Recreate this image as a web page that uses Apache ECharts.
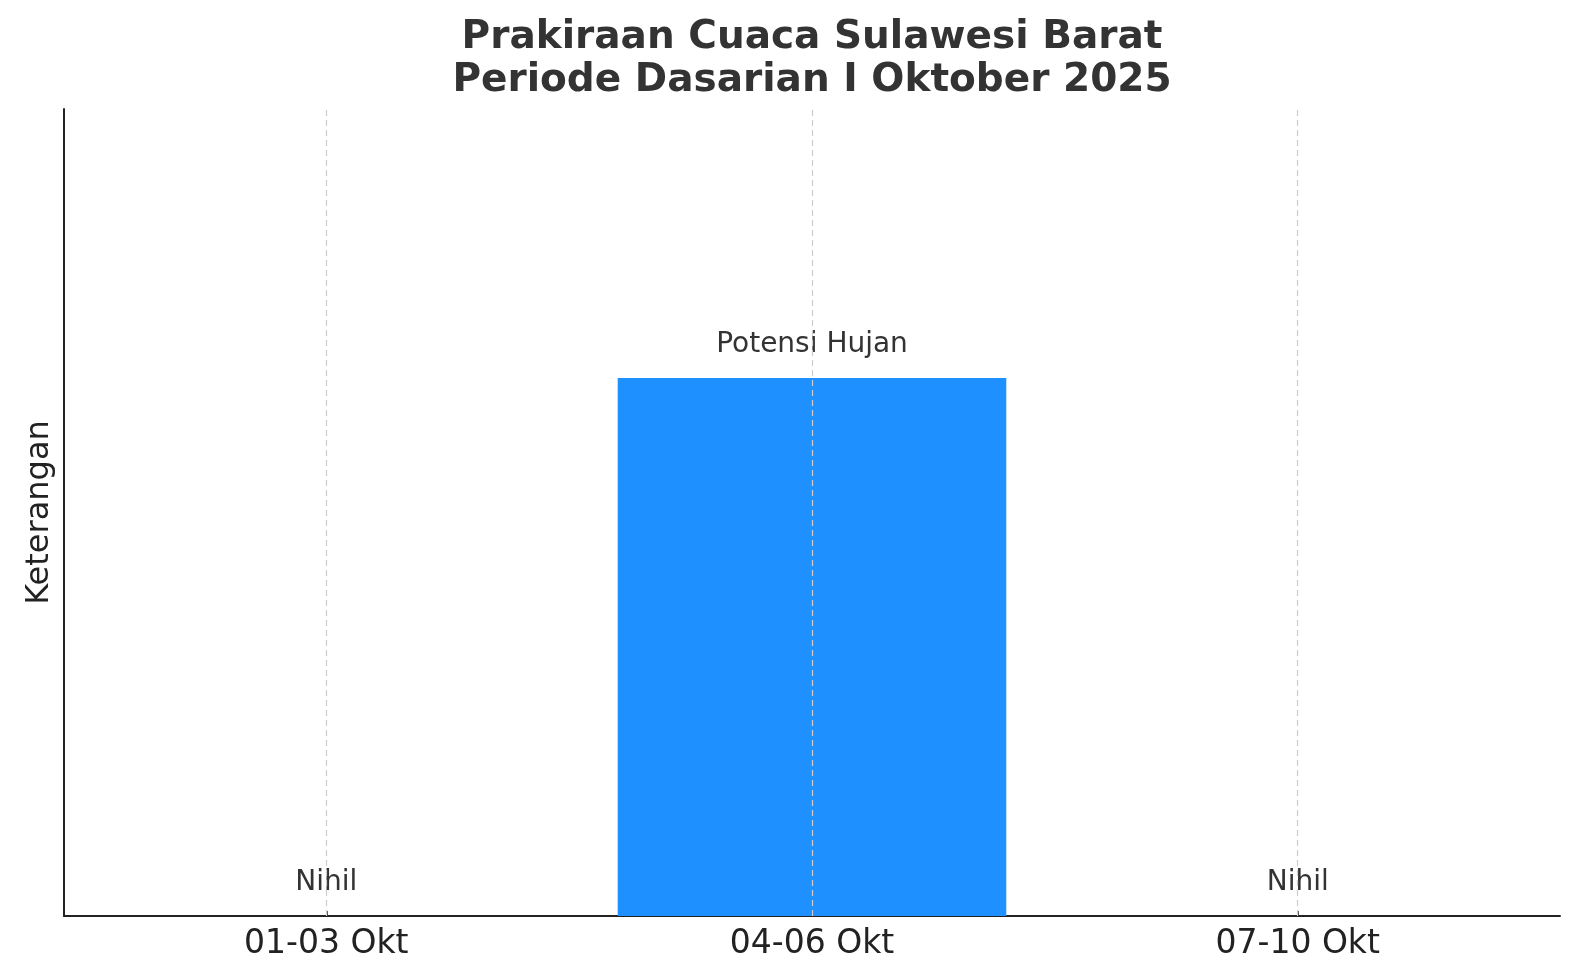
<!DOCTYPE html>
<html>
<head>
<meta charset="utf-8">
<script src="https://cdn.jsdelivr.net/npm/echarts@6/dist/echarts.min.js"></script>
<style>
html,body{margin:0;padding:0;background:#fff;}
#chart{width:1580px;height:979px;}
</style>
</head>
<body>
<div id="chart"></div>
<script>
const categories = ["01-03 Okt", "04-06 Okt", "07-10 Okt"];
const values = [0, 1, 0];
const barLabels = ["Nihil", "Potensi Hujan", "Nihil"];
const titleText = "Prakiraan Cuaca Sulawesi Barat\nPeriode Dasarian I Oktober 2025";
const yName = "Keterangan";

const FONT = "DejaVu Sans";
const W = 1580;
const gridLeft = 64, gridRight = 20, gridTop = 109, gridBottom = 63;
const xMin = -0.54, xMax = 2.54;
const unitPx = (W - gridLeft - gridRight) / (xMax - xMin);
const plotCenterX = gridLeft + (W - gridLeft - gridRight) / 2;

const chart = echarts.init(document.getElementById('chart'), null, {renderer: 'canvas'});
const idx = categories.map((c, i) => i);

chart.setOption({
  backgroundColor: '#ffffff',
  animation: false,
  title: {
    text: titleText,
    left: plotCenterX - 5,
    textAlign: 'center',
    top: 11,
    textStyle: {fontFamily: FONT, fontSize: 39, fontWeight: 'bold', color: '#333333', lineHeight: 43}
  },
  grid: {left: gridLeft, right: gridRight, top: gridTop, bottom: gridBottom, containLabel: false},
  xAxis: {
    type: 'value',
    min: xMin,
    max: xMax,
    axisLine: {show: true, onZero: false, lineStyle: {color: '#222222', width: 2}},
    axisTick: {show: true, inside: true, length: 5, customValues: idx, lineStyle: {color: '#222222', width: 1.5}},
    axisLabel: {
      show: true, customValues: idx, margin: 12,
      fontFamily: FONT, fontSize: 33, color: '#222222',
      formatter: v => categories[Math.round(v)] || ''
    },
    splitLine: {show: false}
  },
  yAxis: {
    type: 'value',
    min: 0,
    max: 1.5,
    name: yName,
    nameLocation: 'middle',
    nameRotate: 90,
    nameGap: 8,
    nameTextStyle: {fontFamily: FONT, fontSize: 32, color: '#222222'},
    axisLine: {show: true, onZero: false, lineStyle: {color: '#222222', width: 2}},
    axisTick: {show: false},
    axisLabel: {show: false},
    splitLine: {show: false}
  },
  series: [{
    type: 'bar',
    data: values.map((v, i) => [i, v]),
    barWidth: 0.8 * unitPx,
    itemStyle: {color: '#1E90FF'},
    label: {
      show: true,
      position: 'top',
      distance: 19,
      fontFamily: FONT,
      fontSize: 28,
      color: '#333333',
      formatter: p => barLabels[p.dataIndex]
    },
    markLine: {
      silent: true,
      symbol: ['none', 'none'],
      label: {show: false},
      lineStyle: {type: [6, 4], color: '#cccccc', width: 1.2},
      data: idx.map(i => ({xAxis: i}))
    }
  }]
});
</script>
</body>
</html>
